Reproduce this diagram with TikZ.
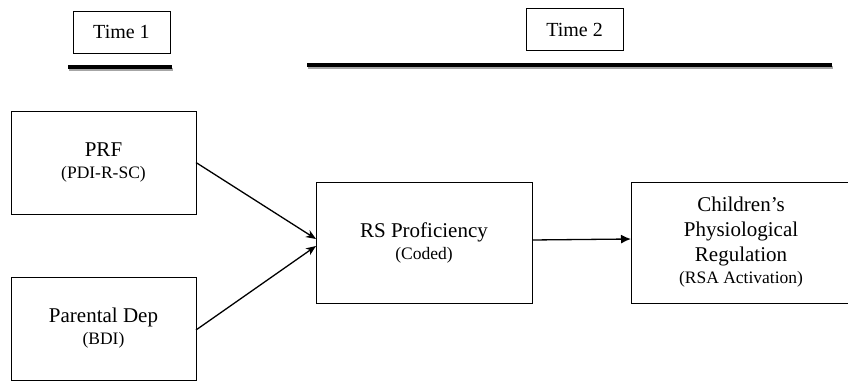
\documentclass[tikz,border=0pt]{standalone}
\usepackage{fontspec}
\setmainfont{Liberation Serif}
\usepackage{tikz}
\usetikzlibrary{arrows.meta}

\begin{document}
\begin{tikzpicture}
		[x=1pt,y=-1pt,
		boxDecorate/.style={shape=rectangle,draw,line width=0.9pt,inner sep=2pt,outer sep=0pt,align=center,font=\fontsize{21}{25}\selectfont},
		lineDecorate/.style={-{Stealth[length=10pt,width=8pt,inset=3pt]},line width=1.3pt},
		headDecorate/.style={-{Latex[length=10pt,width=9pt]},line width=1.3pt},
		barDecorate/.style={line width=3.5pt},
		shadowDecorate/.style={line width=3pt,black!35}]
		\useasboundingbox (0,0) rectangle (848,382);
		\newcommand{\subtext}[1]{{\fontsize{17.5}{21}\selectfont #1}}
		%% time headers
		\foreach \nodename/\x/\y/\label in {
			timeA/121.5/32/Time 1, timeB/574.5/29.5/Time 2}
		{
			\node (\nodename) at (\x,\y) [boxDecorate,font=\fontsize{20}{24}\selectfont,minimum width=97pt,minimum height=42pt] {\label};
		}
		\draw[shadowDecorate] (69,69.5) -- (173,69.5);
		\draw[barDecorate] (68,67) -- (172,67);
		\draw[shadowDecorate] (308,67.5) -- (833,67.5);
		\draw[barDecorate] (307,65) -- (832,65);
		%% nodes or vertices
		\node (PRF) at (103.5,162.5) [boxDecorate,minimum width=185pt,minimum height=103pt]
			{PRF\\[-3pt]\subtext{(PDI-R-SC)}};
		\node (Dep) at (103.5,328.5) [boxDecorate,minimum width=185pt,minimum height=103pt]
			{Parental Dep\\[-3pt]\subtext{(BDI)}};
		\node (RS) at (424,242.5) [boxDecorate,minimum width=216pt,minimum height=121pt]
			{RS Proficiency\\[-3pt]\subtext{(Coded)}};
		\node (Child) at (741,242.5) [boxDecorate,minimum width=220pt,minimum height=121pt]
			{Children's\\Physiological\\Regulation\\[-3pt]\subtext{(RSA Activation)}};
		%% edges or lines
		\draw[lineDecorate] (PRF.east) -- ([yshift=3.5pt]RS.west);
		\draw[lineDecorate] ([yshift=-1.5pt]Dep.east) -- ([yshift=-3.5pt]RS.west);
		\draw[headDecorate] ([yshift=2.5pt]RS.east) -- ([yshift=3.5pt]Child.west);
	\end{tikzpicture}
\end{document}
